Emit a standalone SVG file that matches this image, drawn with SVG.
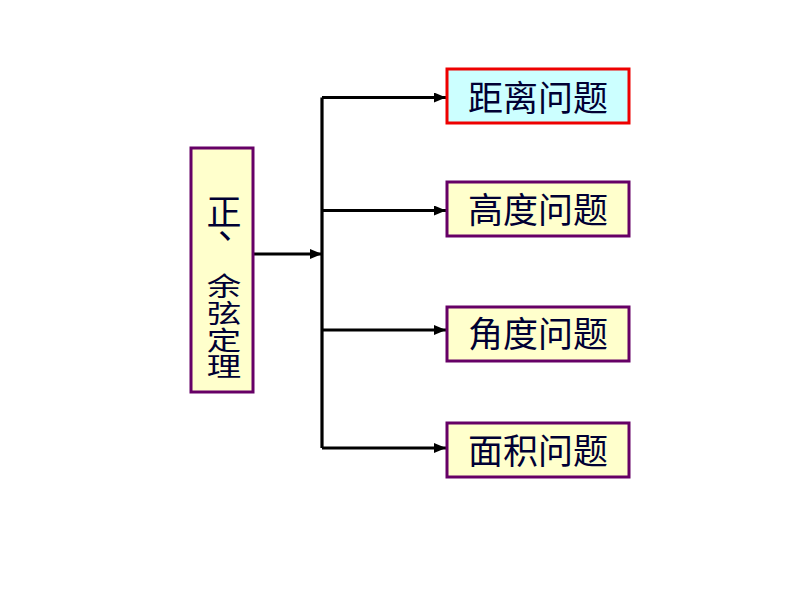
<svg xmlns="http://www.w3.org/2000/svg" width="794" height="596" viewBox="0 0 794 596">
<style>
.box{fill:#FFFFCC;stroke:#660066;stroke-width:3}
.hl{fill:#CCFFFF;stroke:#EE0000;stroke-width:3}
.lbl{font-family:"Noto Sans CJK SC","Noto Sans",sans-serif;font-size:35px;fill:#000033;text-anchor:middle}
.vl{font-family:"Noto Sans CJK SC","Noto Sans",sans-serif;fill:#000033}
.vc{font-family:"Noto Sans CJK SC","Noto Sans",sans-serif;fill:#000033;font-size:26.5px;text-anchor:middle}
.ln{fill:none;stroke:#000;stroke-width:3.2}
</style>
<defs>
<marker id="ah" viewBox="0 0 12 10" refX="12" refY="5" markerWidth="12" markerHeight="10" markerUnits="userSpaceOnUse" orient="auto">
<path d="M0,0 L12,5 L0,10 Z" fill="#000"/>
</marker>
</defs>
<rect width="794" height="596" fill="#fff"/>
<g id="connectors">
<path class="ln" d="M253,254 H322" marker-end="url(#ah)"/>
<path class="ln" d="M322,97.5 V448"/>
<path class="ln" d="M322,97.5 H446" marker-end="url(#ah)"/>
<path class="ln" d="M322,210.5 H446" marker-end="url(#ah)"/>
<path class="ln" d="M322,330 H446" marker-end="url(#ah)"/>
<path class="ln" d="M322,448 H446" marker-end="url(#ah)"/>
</g>
<g id="theorem">
<rect class="box" x="191" y="148" width="62" height="244"/>
<text class="vl" x="224" y="224.5" font-size="35" text-anchor="middle">正</text>
<text class="vl" x="214" y="229" font-size="36" writing-mode="vertical-rl">、</text>
<text class="vc" transform="matrix(1.3,0,0,1,224,0)" x="0" y="296">余</text>
<text class="vc" transform="matrix(1.3,0,0,1,224,0)" x="0" y="323">弦</text>
<text class="vc" transform="matrix(1.3,0,0,1,224,0)" x="0" y="350">定</text>
<text class="vc" transform="matrix(1.3,0,0,1,224,0)" x="0" y="376.5">理</text>
</g>
<g id="distance">
<rect class="hl" x="447" y="69" width="182" height="54"/>
<text class="lbl" x="538" y="111">距离问题</text>
</g>
<g id="height">
<rect class="box" x="447" y="182" width="182" height="54"/>
<text class="lbl" x="538" y="223">高度问题</text>
</g>
<g id="angle">
<rect class="box" x="447" y="307" width="182" height="54"/>
<text class="lbl" x="538" y="347">角度问题</text>
</g>
<g id="area">
<rect class="box" x="447" y="423" width="182" height="54"/>
<text class="lbl" x="538" y="464">面积问题</text>
</g>
</svg>
